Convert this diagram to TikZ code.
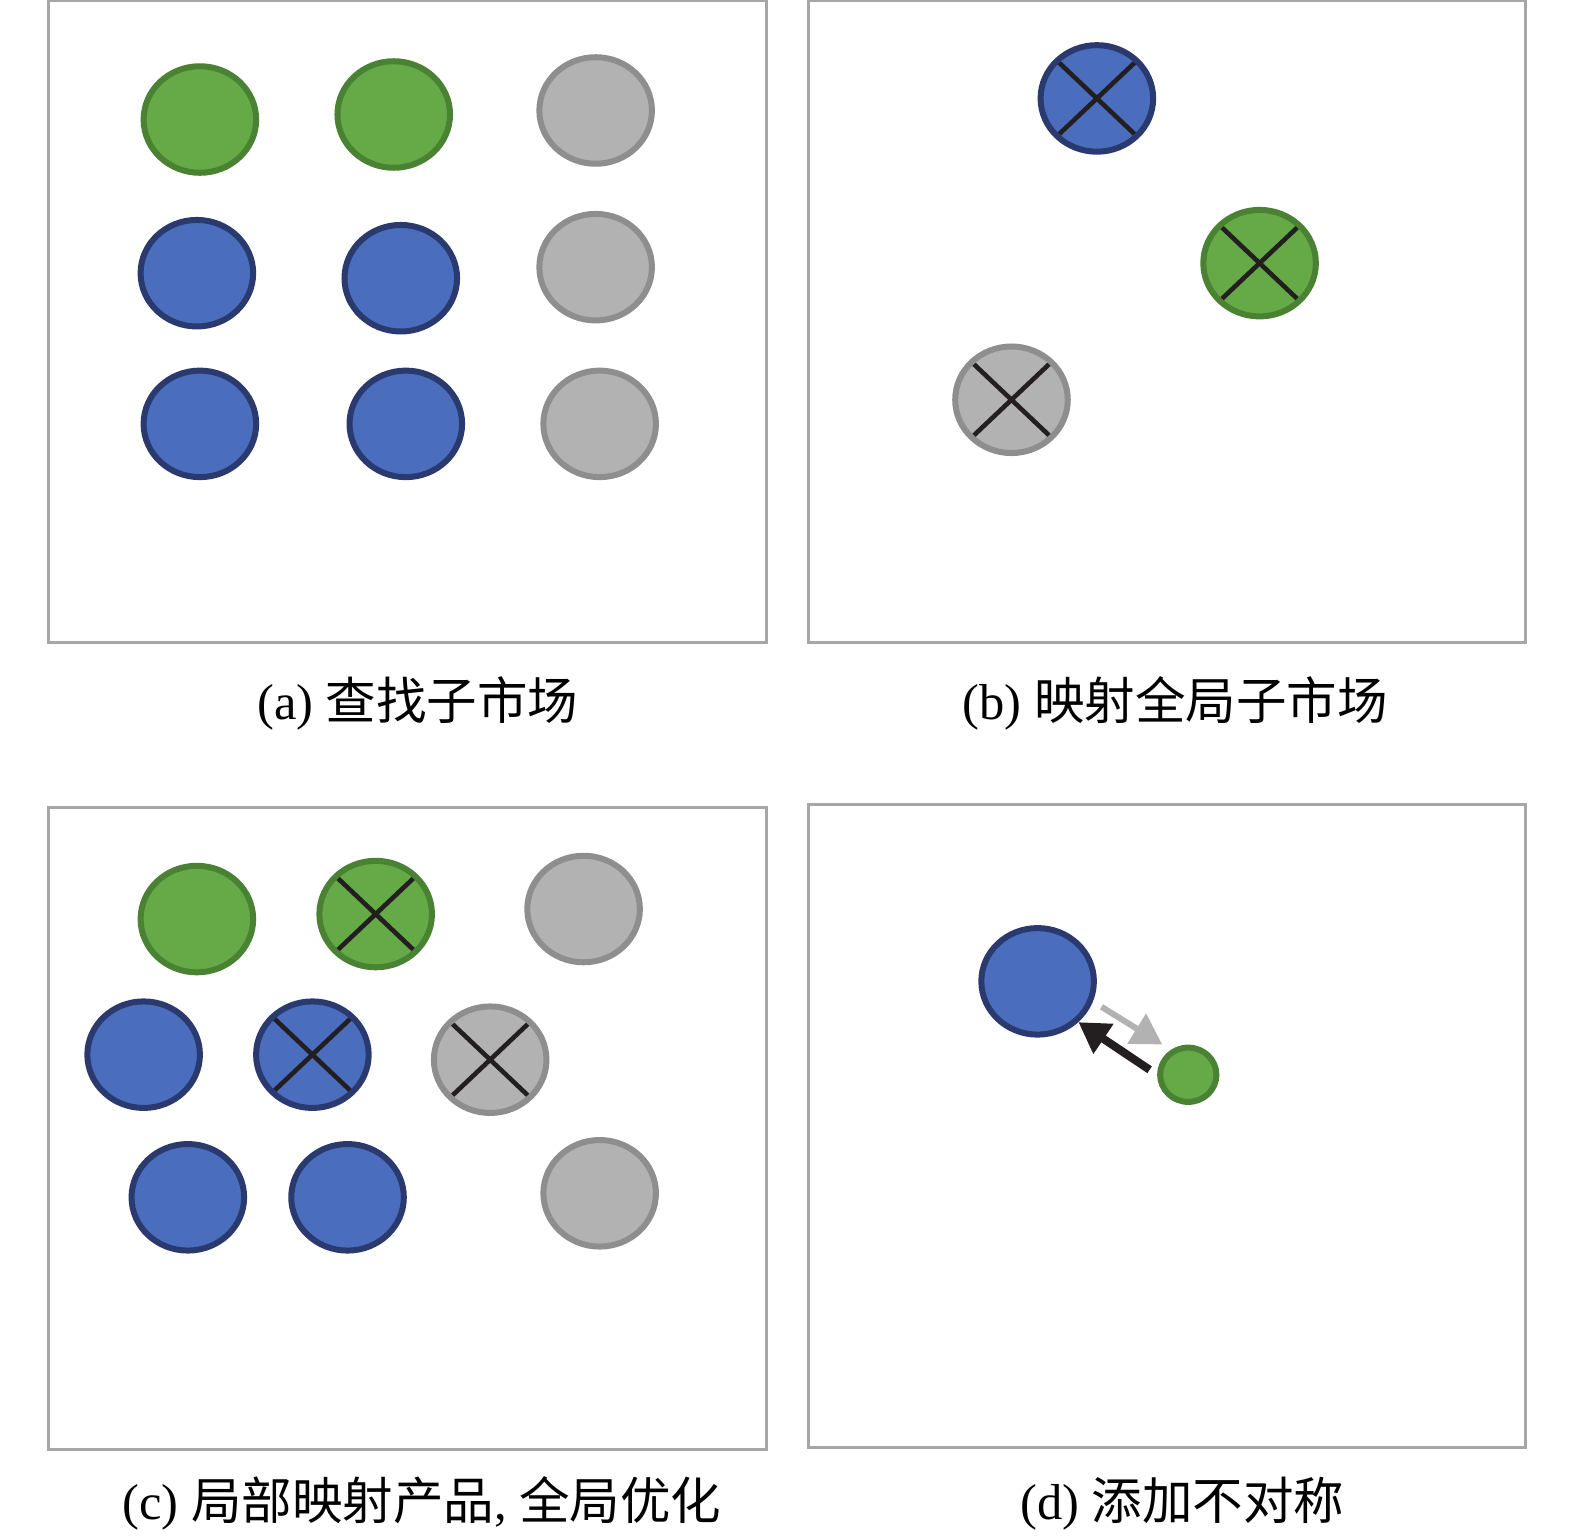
\documentclass[tikz,border=0pt]{standalone}
\usepackage{fontspec}
\setmainfont{Liberation Serif}
\newfontfamily\cjk{Noto Sans CJK SC}
\usetikzlibrary{shapes.geometric,arrows.meta}
\definecolor{bluefill}{HTML}{4A6DBE}
\definecolor{blueline}{HTML}{2B3A6E}
\definecolor{greenfill}{HTML}{66AA47}
\definecolor{greenline}{HTML}{4A8234}
\definecolor{grayfill}{HTML}{B2B2B2}
\definecolor{grayline}{HTML}{8E8E8E}
\definecolor{frameline}{HTML}{A6A6A6}
\definecolor{crossline}{HTML}{231F20}

\begin{document}
\begin{tikzpicture}[x=0.01cm, y=-0.01cm,
  dot/.style={ellipse, draw, line width=1.7pt, inner sep=0pt,
    minimum width=1.12cm, minimum height=1.06cm},
  bdot/.style={dot, fill=bluefill, draw=blueline},
  gdot/.style={dot, fill=greenfill, draw=greenline},
  ydot/.style={dot, fill=grayfill, draw=grayline},
  crossed/.style={path picture={
    \draw[crossline, line width=1.3pt]
      (path picture bounding box.north west) -- (path picture bounding box.south east)
      (path picture bounding box.north east) -- (path picture bounding box.south west);}},
  panel/.style={draw=frameline, line width=0.8pt},
  caption/.style={font=\fontsize{14.3}{16}\selectfont, inner sep=0pt}]

  \useasboundingbox (0,0) rectangle (1568,1531);

  % Panel frames
  \draw[panel] (48,1) rectangle (763,640);
  \draw[panel] (805,1) rectangle (1519,640);
  \draw[panel] (48,804) rectangle (763,1443);
  \draw[panel] (805,801) rectangle (1519,1441);

  % (a) sub-markets
  \node[gdot] (a11) at (199,119) {};
  \node[gdot] (a12) at (392,114) {};
  \node[ydot] (a13) at (593,110) {};
  \node[bdot] (a21) at (196,272) {};
  \node[bdot] (a22) at (399,277) {};
  \node[ydot] (a23) at (593,266) {};
  \node[bdot] (a31) at (199,422) {};
  \node[bdot] (a32) at (404,422) {};
  \node[ydot] (a33) at (597,422) {};

  % (b) global sub-markets
  \node[bdot, crossed] (bblue) at (1092,98) {};
  \node[gdot, crossed] (bgreen) at (1254,262) {};
  \node[ydot, crossed] (bgray) at (1007,398) {};

  % (c) local mapping
  \node[gdot] (c11) at (196,915) {};
  \node[gdot, crossed] (c12) at (374,910) {};
  \node[ydot] (c13) at (581,905) {};
  \node[bdot] (c21) at (143,1050) {};
  \node[bdot, crossed] (c22) at (311,1050) {};
  \node[ydot, crossed] (c23) at (488,1055) {};
  \node[bdot] (c31) at (187,1192) {};
  \node[bdot] (c32) at (346,1192) {};
  \node[ydot] (c33) at (597,1188) {};

  % (d) asymmetry
  \node[bdot] (dblue) at (1033,977) {};
  \node[gdot, minimum width=0.56cm, minimum height=0.54cm] (dgreen) at (1183,1070) {};
  \draw[grayfill, line width=1.7pt, -{Triangle[length=0.3cm, width=0.34cm]},
    shorten <=0.1cm, shorten >=0.1cm] (dblue.-20) -- (dgreen.125);
  \draw[crossline, line width=2.3pt, -{Triangle[length=0.3cm, width=0.34cm]},
    shorten <=0.09cm] (dgreen.west) -- (dblue.-45);

  % Captions
  \node[caption] (capa) at (416,700) {(a) {\cjk 查找子市场}};
  \node[caption] (capb) at (1170,700) {(b) {\cjk 映射全局子市场}};
  \node[caption] (capc) at (420,1497) {(c) {\cjk 局部映射产品}, {\cjk 全局优化}};
  \node[caption] (capd) at (1177,1497) {(d) {\cjk 添加不对称}};

\end{tikzpicture}
\end{document}
